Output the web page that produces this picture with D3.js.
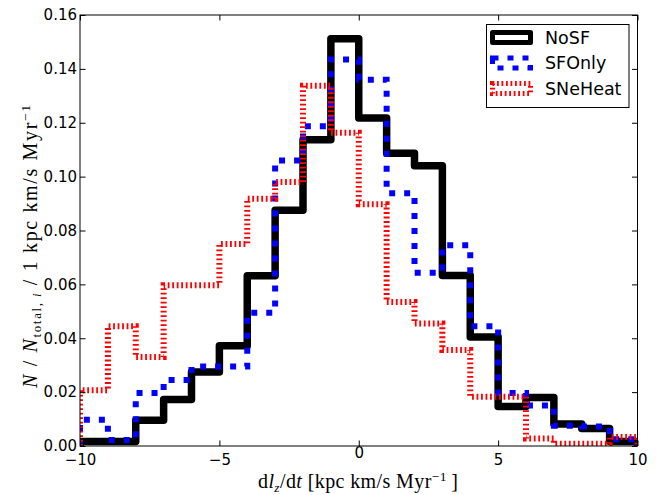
<!DOCTYPE html>
<html>
<head>
<meta charset="utf-8">
<script src="https://cdn.jsdelivr.net/npm/d3@7"></script>
<style>
  html, body { margin: 0; padding: 0; background: #fff; }
  svg { display: block; }
  .tick text { font-family: "DejaVu Sans", sans-serif; font-size: 15px; fill: #000; }
  .math { font-family: "Liberation Serif", "DejaVu Serif", serif; fill: #000; }
</style>
</head>
<body>
<svg id="chart" width="662" height="495"></svg>
<script>
// Bin edges (unit-width bins from -10 to 10)
const binEdges = [-10, -9, -8, -7, -6, -5, -4, -3, -2, -1, 0, 1, 2, 3, 4, 5, 6, 7, 8, 9, 10];

// Normalised counts per bin
const noSF    = [0.0017, 0.0017, 0.0096, 0.0173, 0.0275, 0.0372, 0.0632, 0.0875, 0.1137, 0.1512,
                 0.1218, 0.1087, 0.1040, 0.0633, 0.0405, 0.0147, 0.0180, 0.0082, 0.0065, 0.0017];
const sfOnly  = [0.0097, 0.0022, 0.0197, 0.0245, 0.0295, 0.0295, 0.0495, 0.1060, 0.1187, 0.1435,
                 0.1360, 0.0938, 0.0643, 0.0745, 0.0445, 0.0197, 0.0150, 0.0075, 0.0072, 0.0025];
const sneHeat = [0.0207, 0.0445, 0.0330, 0.0597, 0.0597, 0.0750, 0.0918, 0.0980, 0.1337, 0.1163,
                 0.0897, 0.0535, 0.0455, 0.0356, 0.0183, 0.0183, 0.0028, 0.0008, 0.0008, 0.0033];

const seriesNames = ["NoSF", "SFOnly", "SNeHeat"];
const xTicks = [-10, -5, 0, 5, 10];
const yTicks = [0.00, 0.02, 0.04, 0.06, 0.08, 0.10, 0.12, 0.14, 0.16];

const styles = [
  { color: "#000000", width: 7.5, legendWidth: 5, dash: null },
  { color: "#0000ff", width: 6,   legendWidth: 5, dash: "6,9" },
  { color: "#ff0000", width: 6,   legendWidth: 5, dash: "1.8,2.7" }
];
const seriesValues = [noSF, sfOnly, sneHeat];

const svg = d3.select("#chart");
const margin = { left: 80, right: 662 - 637.5, top: 15, bottom: 495 - 446 };
const W = 662 - margin.left - margin.right;
const H = 495 - margin.top - margin.bottom;

const x = d3.scaleLinear().domain([-10, 10]).range([margin.left, margin.left + W]);
const y = d3.scaleLinear().domain([0, 0.16]).range([margin.top + H, margin.top]);

svg.append("defs").append("clipPath").attr("id", "plotClip")
  .append("rect").attr("x", margin.left).attr("y", margin.top).attr("width", W).attr("height", H);

// Step outline: up from the baseline at the first edge, across every bin, down at the last edge
function stepPoints(values) {
  const pts = [[binEdges[0], 0]];
  values.forEach((v, i) => {
    pts.push([binEdges[i], v]);
    pts.push([binEdges[i + 1], v]);
  });
  pts.push([binEdges[binEdges.length - 1], 0]);
  return pts;
}
const line = d3.line().x(d => x(d[0])).y(d => y(d[1]));

const plot = svg.append("g").attr("clip-path", "url(#plotClip)");
seriesValues.forEach((vals, i) => {
  const s = styles[i];
  plot.append("path")
    .attr("d", line(stepPoints(vals)))
    .attr("fill", "none")
    .attr("stroke", s.color)
    .attr("stroke-width", s.width)
    .attr("stroke-linejoin", i === 0 ? "round" : "miter")
    .attr("stroke-dasharray", s.dash);
});

// Axes with inward ticks on all four sides
const tickLen = 5.5;
const fmtY = d3.format(".2f");
const bottomAxis = d3.axisBottom(x).tickValues(xTicks).tickSizeInner(-tickLen).tickSizeOuter(0).tickPadding(8);
const topAxis = d3.axisTop(x).tickValues(xTicks).tickSizeInner(-tickLen).tickSizeOuter(0).tickFormat("");
const leftAxis = d3.axisLeft(y).tickValues(yTicks).tickSizeInner(-tickLen).tickSizeOuter(0).tickPadding(3).tickFormat(fmtY);
const rightAxis = d3.axisRight(y).tickValues(yTicks).tickSizeInner(-tickLen).tickSizeOuter(0).tickFormat("");

function styleAxis(g) {
  g.select(".domain").remove();
  g.selectAll(".tick line").attr("stroke", "#000").attr("stroke-width", 1);
}
svg.append("g").attr("transform", `translate(0,${margin.top + H})`).call(bottomAxis).call(styleAxis);
svg.append("g").attr("transform", `translate(0,${margin.top})`).call(topAxis).call(styleAxis);
svg.append("g").attr("transform", `translate(${margin.left},0)`).call(leftAxis).call(styleAxis);
svg.append("g").attr("transform", `translate(${margin.left + W},0)`).call(rightAxis).call(styleAxis);
svg.selectAll(".tick text").attr("font-family", null).attr("font-size", null);
// the lowest y label sits just above the x tick labels
svg.selectAll(".tick text").filter(d => d === 0.00 && typeof d === "number").attr("dy", "0.28em");

svg.append("rect")
  .attr("x", margin.left).attr("y", margin.top).attr("width", W).attr("height", H)
  .attr("fill", "none").attr("stroke", "#000").attr("stroke-width", 1);

// Axis labels
const xl = svg.append("text").attr("class", "math")
  .attr("x", 358).attr("y", 488)
  .attr("text-anchor", "middle").attr("font-size", 20)
  .attr("textLength", 200).attr("lengthAdjust", "spacing");
xl.append("tspan").text("d");
xl.append("tspan").attr("font-style", "italic").text("l");
xl.append("tspan").attr("font-style", "italic").attr("font-size", 13.5).attr("dy", 4).text("z");
xl.append("tspan").attr("dy", -4).text("/d");
xl.append("tspan").attr("font-style", "italic").text("t");
xl.append("tspan").text(" [kpc km/s Myr");
xl.append("tspan").attr("font-size", 13.5).attr("dy", -7).text("\u22121");
xl.append("tspan").attr("dy", 7).text("\u2009]");

const yl = svg.append("text").attr("class", "math")
  .attr("transform", `translate(37,246.5) rotate(-90)`)
  .attr("text-anchor", "middle").attr("font-size", 20)
  .attr("textLength", 283).attr("lengthAdjust", "spacing");
yl.append("tspan").attr("font-style", "italic").text("N");
yl.append("tspan").text(" / ");
yl.append("tspan").attr("font-style", "italic").text("N");
yl.append("tspan").attr("font-size", 13).attr("dy", 4).text("total,\u2009");
yl.append("tspan").attr("font-size", 13).attr("font-style", "italic").text("i");
yl.append("tspan").attr("dy", -4).text(" / 1 kpc km/s Myr");
yl.append("tspan").attr("font-size", 13.5).attr("dy", -7).text("\u22121");

// Legend
const lg = svg.append("g");
lg.append("rect").attr("x", 486.5).attr("y", 24.5).attr("width", 142.5).attr("height", 83)
  .attr("fill", "#fff").attr("stroke", "#000").attr("stroke-width", 1);
seriesNames.forEach((name, i) => {
  const s = styles[i];
  const cy = 37.5 + i * 25.5;
  lg.append("rect")
    .attr("x", 492.5).attr("y", cy - 5).attr("width", 38).attr("height", 10)
    .attr("fill", "none").attr("stroke", s.color).attr("stroke-width", s.legendWidth)
    .attr("stroke-linejoin", i === 0 ? "round" : "miter")
    .attr("stroke-dasharray", s.dash);
  lg.append("text")
    .attr("x", 545).attr("y", cy).attr("dy", "0.36em")
    .attr("font-family", "DejaVu Sans, sans-serif").attr("font-size", 17.5)
    .text(name);
});
</script>
</body>
</html>
